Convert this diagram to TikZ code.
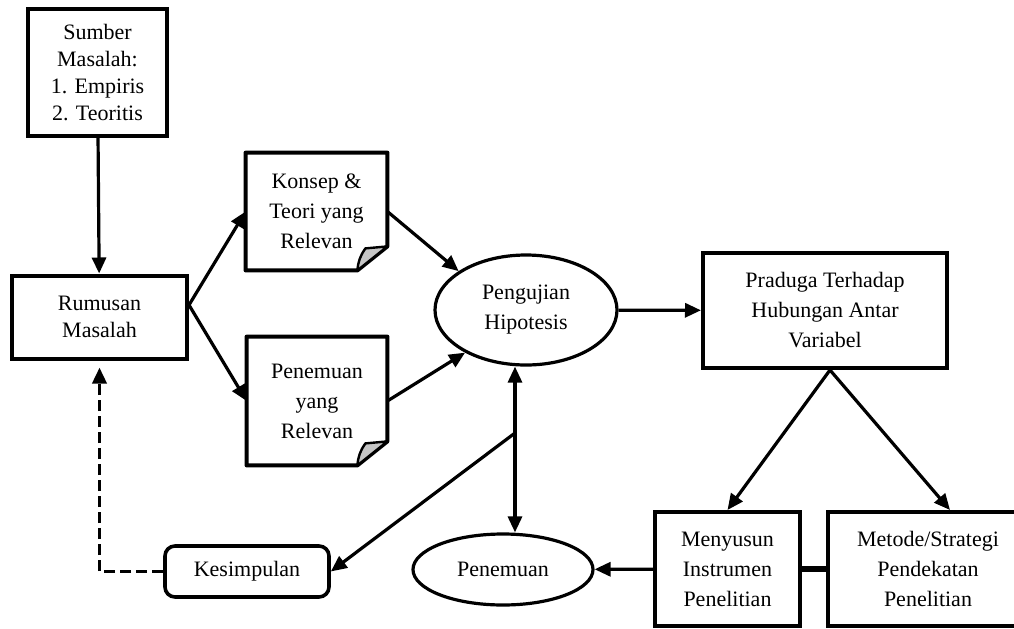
\documentclass[tikz,border=0pt]{standalone}
\usepackage{fontspec}
\setmainfont{Liberation Serif}
\usetikzlibrary{arrows,arrows.meta,positioning,shapes.geometric}

\begin{document}
\begin{tikzpicture}
	[x=0.5pt,y=-0.5pt,font=\fontsize{11}{15}\selectfont,
	box/.style={draw,line width=2pt,align=center,inner sep=0pt},
	doc node/.style={align=center,inner sep=0pt},
	oval/.style={draw,ellipse,line width=1.6pt,align=center,inner sep=0pt},
	arr/.style={line width=1.6pt,-{Triangle[length=8pt,width=7pt]}}]
	\useasboundingbox (0,0) rectangle (1014,628);
	
	\node[box,font=\fontsize{11}{13.5}\selectfont,minimum width=69.5pt,minimum height=63.5pt] (sumber) at (97.5,72.5) {Sumber\\Masalah:\\1. Empiris\\2. Teoritis};
	\node[box,font=\fontsize{11}{13.5}\selectfont,minimum width=87.5pt,minimum height=41.5pt] (rumusan) at (99.5,317) {Rumusan\\Masalah};
	\node[doc node,minimum width=70.5pt,minimum height=58.5pt] (konsep) at (316.5,211.5) {Konsep \&\\Teori yang\\Relevan};
	\node[doc node,minimum width=70pt,minimum height=64pt] (relevan) at (317,401) {Penemuan\\yang\\Relevan};
	\node[oval,minimum width=91pt,minimum height=55pt] (uji) at (526,310) {Pengujian\\Hipotesis};
	\node[box,minimum width=122pt,minimum height=57.5pt] (praduga) at (825,310.5) {Praduga Terhadap\\Hubungan Antar\\Variabel};
	\node[box,minimum width=72.5pt,minimum height=57pt] (menyusun) at (727.5,569) {Menyusun\\Instrumen\\Penelitian};
	\node[box,minimum width=100pt,minimum height=57pt] (metode) at (928,569) {Metode/Strategi\\Pendekatan\\Penelitian};
	\node[oval,minimum width=90pt,minimum height=35.5pt] (temu) at (503,569.5) {Penemuan};
	\node[box,rounded corners=5pt,line width=1.8pt,minimum width=82pt,minimum height=25.5pt] (simpul) at (247,571.5) {Kesimpulan};
	\coordinate (split) at (515,433);
	
	% folded pages
	\foreach \d in {konsep,relevan}{
		\draw[line width=2pt,line join=round] (\d.north west) -- (\d.north east) -- ([yshift=12pt]\d.south east)
			-- ([xshift=-15pt]\d.south east) -- (\d.south west) -- cycle;
		\filldraw[fill=gray!45,line width=1.2pt,line join=round] ([xshift=-15pt]\d.south east)
			to[bend left=15] ([xshift=-11pt,yshift=11pt]\d.south east) -- ([yshift=12pt]\d.south east) -- cycle;
	}
	
	\draw[arr] (sumber) -- (rumusan);
	\draw[arr] ([yshift=6pt]rumusan.east) -- (konsep.west);
	\draw[arr] ([yshift=6pt]rumusan.east) -- (relevan.west);
	\draw[arr] (konsep.east) -- (uji.150);
	\draw[arr] (relevan.east) -- (uji.215);
	\draw[arr] (uji) -- (praduga);
	\draw[arr] ([xshift=2.5pt]praduga.south) -- (menyusun.north);
	\draw[arr] ([xshift=2.5pt]praduga.south) -- ([xshift=11pt]metode.north);
	\draw[line width=2.6pt] (menyusun) -- (metode);
	\draw[arr] (menyusun) -- (temu);
	\draw[arr,{Triangle[length=8pt,width=7pt]}-{Triangle[length=8pt,width=7pt]}] (uji.south -| split) -- (temu.north -| split);
	\draw[arr] (split) -- (simpul.east);
	\draw[arr,line width=1.8pt,dash pattern=on 5.5pt off 2.5pt] (simpul.west) -| ([yshift=-3.5pt]rumusan.south);
\end{tikzpicture}
\end{document}
